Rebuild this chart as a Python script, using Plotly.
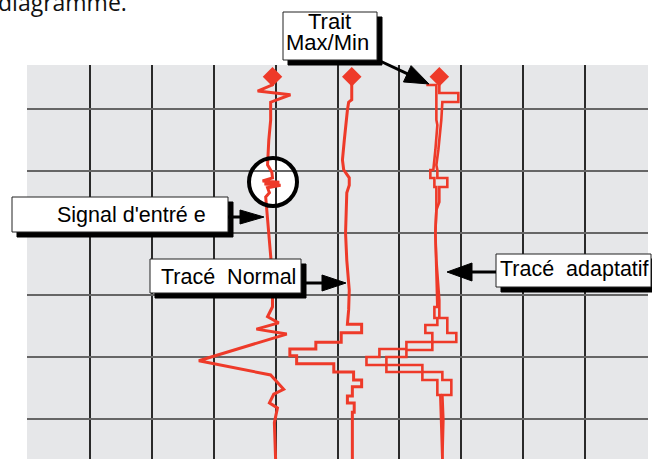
import math
import plotly.graph_objects as go

# axe horizontal : valeur en % de la largeur du papier ; axe vertical : temps (10 = une division)
sig_val = [39.5, 39.5, 37.1, 42.4, 39.2, 39.2, 38.9, 38.7, 39.4, 39.5, 37.9, 40.6, 38.2, 40.8,
           38.7, 39.0, 38.4, 38.7, 39.0, 39.4, 39.5, 39.5, 38.7, 40.5, 36.9, 41.8, 27.6, 39.2,
           41.3, 39.7, 39.0, 40.3, 39.8, 40.0]
sig_t = [4.8, 6.1, 7.1, 7.7, 8.9, 11.8, 15.0, 19.0, 20.2, 21.1, 21.6, 21.8, 22.1, 22.3,
         22.7, 23.5, 24.2, 27.4, 31.1, 36.0, 40.5, 41.9, 43.5, 44.5, 45.5, 46.3, 50.6, 52.9,
         55.2, 56.0, 57.4, 58.2, 60.6, 66.5]

# tracé normal
norm_val = [52.3, 52.3, 51.8, 51.6, 51.1, 50.8, 51.0, 51.9, 51.9, 51.5, 51.3, 51.5, 51.9, 51.8,
            51.6, 53.9, 53.9, 50.6, 50.6, 46.5, 46.5, 42.3, 42.3, 43.4, 43.4, 49.4, 49.4, 52.6,
            52.6, 53.9, 53.9, 52.4, 52.4, 51.6, 51.6, 52.7, 52.7, 52.4, 52.4]
norm_t = [4.8, 8.5, 8.9, 10.2, 15.0, 18.2, 19.8, 21.1, 22.3, 23.5, 30.0, 34.4, 39.2, 42.4,
          44.7, 44.7, 46.1, 46.1, 47.6, 47.6, 48.7, 48.7, 49.8, 49.8, 51.1, 51.1, 52.4, 52.4,
          53.7, 53.7, 54.8, 54.8, 56.3, 56.3, 57.4, 57.4, 58.9, 58.9, 66.5]

# tracé adaptatif : trait max et trait min
max_val = [66.45, 66.45, 69.52, 69.52, 66.94, 66.77, 66.29, 65.97, 66.13, 66.13, 67.74, 67.74,
           66.45, 66.45, 65.97, 65.81, 65.97, 66.29, 66.45, 66.45, 67.74, 67.74, 69.19, 69.19,
           65.32, 65.32, 61.13, 61.13, 57.90, 57.90, 63.71, 63.71, 66.94, 66.94, 68.39, 68.39,
           66.94, 67.10, 66.94]
max_t = [4.8, 7.42, 7.42, 8.87, 8.87, 11.77, 16.61, 19.03, 19.84, 21.13, 21.13, 22.58,
         22.58, 25.0, 26.29, 30.0, 34.35, 39.19, 40.81, 43.71, 43.71, 46.13, 46.13, 47.58,
         47.58, 48.87, 48.87, 50.0, 50.0, 51.29, 51.29, 52.42, 52.42, 53.71, 53.71, 56.13,
         56.13, 60.16, 66.5]
min_val = [64.35, 65.97, 65.97, 66.13, 65.81, 65.48, 65.48, 65.00, 65.00, 65.65, 65.65, 65.97,
           65.97, 65.97, 65.81, 65.97, 66.13, 66.13, 65.65, 65.65, 66.13, 66.13, 64.19, 64.19,
           65.32, 65.32, 61.13, 61.13, 56.77, 56.77, 54.68, 54.68, 57.90, 57.90, 63.71, 63.71,
           66.13, 66.13, 66.61, 66.77, 66.94]
min_t = [6.13, 6.13, 11.77, 12.58, 16.61, 19.03, 19.84, 19.84, 21.13, 21.13, 22.58, 22.58,
         25.0, 26.29, 30.0, 34.35, 39.19, 41.94, 41.94, 43.71, 43.71, 44.84, 44.84, 46.13,
         46.13, 47.58, 47.58, 48.71, 48.71, 50.0, 50.0, 51.29, 51.29, 52.42, 52.42, 53.71,
         53.71, 56.13, 56.13, 60.16, 66.5]

# début de chaque trace (losanges)
start_val = [39.5, 52.3, 66.45]
start_t = [4.8, 4.8, 4.8]

RED = "#ee3a29"
FONT = "Liberation Sans"

# zone de tracé en pixels
L, R, T, B = 27, 648, 65, 459


def px(x):
    return (x - L) / (R - L)


def py(y):
    return (B - y) / (B - T)


fig = go.Figure()
fig.add_trace(go.Scatter(x=sig_val, y=sig_t, mode="lines", line=dict(color=RED, width=3)))
fig.add_trace(go.Scatter(x=norm_val, y=norm_t, mode="lines", line=dict(color=RED, width=3)))
fig.add_trace(go.Scatter(x=max_val, y=max_t, mode="lines", line=dict(color=RED, width=2.6)))
fig.add_trace(go.Scatter(x=min_val, y=min_t, mode="lines", line=dict(color=RED, width=2.6)))
fig.add_trace(go.Scatter(x=start_val, y=start_t, mode="markers",
                         marker=dict(symbol="diamond", size=15, color=RED, line_width=0)))

shapes = []
annots = []


def rect(x0, y0, x1, y1, fill, line=None):
    shapes.append(dict(type="rect", xref="paper", yref="paper",
                       x0=px(x0), x1=px(x1), y0=py(y1), y1=py(y0),
                       fillcolor=fill, line=dict(color=line or fill, width=1),
                       layer="above"))


def box(x0, y0, x1, y1, d=5):
    rect(x0 + d, y0 + d, x1 + d, y1 + d, "black")
    rect(x0, y0, x1, y1, "white", "#222")


def label(text, x, y, size=21.5):
    annots.append(dict(text=text, x=px(x), y=py(y), xref="paper", yref="paper",
                       showarrow=False, xanchor="center", yanchor="middle",
                       font=dict(family=FONT, size=size, color="black")))


def arrow(x0, y0, x1, y1, head=23, half=8, width=3):
    dx, dy = x1 - x0, y1 - y0
    n = math.hypot(dx, dy)
    ux, uy = dx / n, dy / n
    bx, by = x1 - ux * head, y1 - uy * head
    shapes.append(dict(type="line", xref="paper", yref="paper",
                       x0=px(x0), y0=py(y0), x1=px(bx + ux), y1=py(by + uy),
                       line=dict(color="black", width=width), layer="above"))
    pts = [(x1, y1), (bx - uy * half, by + ux * half), (bx + uy * half, by - ux * half)]
    path = "M" + " L".join(f"{px(a):.5f},{py(b):.5f}" for a, b in pts) + " Z"
    shapes.append(dict(type="path", xref="paper", yref="paper", path=path,
                       fillcolor="black", line=dict(color="black", width=1), layer="above"))


# bande haute sans lignes verticales
shapes.append(dict(type="rect", xref="paper", yref="paper", x0=0, x1=1, y0=py(70), y1=1,
                   fillcolor="#e6e7e9", line_width=0, layer="between"))
# cercle autour du bruit
shapes.append(dict(type="circle", xref="paper", yref="paper",
                   x0=px(249), x1=px(297), y0=py(206), y1=py(158),
                   fillcolor="white", line_width=0, layer="below"))
shapes.append(dict(type="circle", xref="paper", yref="paper",
                   x0=px(249), x1=px(297), y0=py(206), y1=py(158),
                   line=dict(color="black", width=4), layer="above"))

box(283, 12, 377, 60, d=5)
label("Trait", 329, 22, 22)
label("Max/Min", 327, 43, 22)
arrow(380, 61, 429, 84, head=24, half=9)

box(12, 197, 228, 232)
label("Signal d'entré e", 131, 215)
arrow(228, 217, 264, 217, head=24, half=7)

box(150, 259, 301, 293)
label("Tracé\u00a0 Normal", 228, 277)
arrow(306, 283, 346, 283, head=24, half=8)

box(496, 254, 651, 287)
label("Tracé\u00a0 adaptatif", 574, 269)
arrow(496, 272, 447, 272, head=25, half=9)

# fin de la phrase du texte au-dessus du diagramme
annots.append(dict(text="diagramme.", x=px(-4), y=py(2), xref="paper", yref="paper",
                   showarrow=False, xanchor="left", yanchor="middle",
                   font=dict(family="Open Sans", size=23, color="#111")))

fig.update_layout(
    width=652, height=459,
    margin=dict(l=L, r=652 - R, t=T, b=0),
    paper_bgcolor="white", plot_bgcolor="#e6e7e9",
    showlegend=False,
    shapes=shapes, annotations=annots,
    xaxis=dict(range=[-0.16, 100.16], tick0=0, dtick=10, showticklabels=False,
               showgrid=True, gridcolor="#2a2a2a", gridwidth=1.5, zeroline=False,
               ticks="", fixedrange=True),
    yaxis=dict(range=[66.45, 2.9], tick0=0, dtick=10, showticklabels=False,
               showgrid=True, gridcolor="#666", gridwidth=2, zeroline=False,
               ticks="", fixedrange=True),
)

fig.write_html("out.html", config={"displayModeBar": False},
               post_script="document.body.style.margin='0';"
                           "document.body.style.overflow='hidden';")
